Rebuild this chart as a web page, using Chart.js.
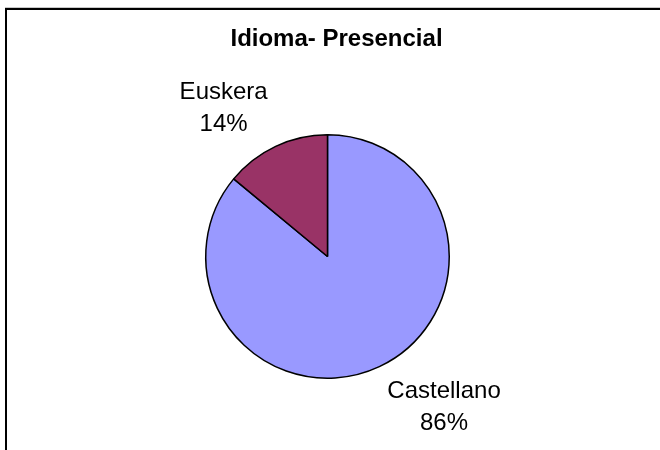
<!DOCTYPE html>
<html>
<head>
<meta charset="utf-8">
<script src="https://cdn.jsdelivr.net/npm/chart.js@4"></script>
<style>
html,body{margin:0;padding:0;background:#fff;}
canvas{display:block;}
</style>
</head>
<body>
<canvas id="c" width="660" height="450"></canvas>
<script>
const chartTitle = 'Idioma- Presencial';
const categories = ['Castellano', 'Euskera'];
const percentages = [86, 14];
const sliceColors = ['#9999FF', '#993366'];

const framePlugin = {
  id: 'frame',
  beforeDraw(chart) {
    const ctx = chart.ctx;
    ctx.save();
    ctx.fillStyle = '#fff';
    ctx.fillRect(0, 0, chart.width, chart.height);
    ctx.fillStyle = '#c8c8c8';
    ctx.fillRect(5, 7, chart.width - 5, 1);
    ctx.fillStyle = '#000';
    ctx.fillRect(5, 8, chart.width - 5, 2);
    ctx.fillRect(5, 8, 2, chart.height - 8);
    ctx.restore();
  }
};

const labelPlugin = {
  id: 'pieLabels',
  afterDraw(chart) {
    const ctx = chart.ctx;
    const meta = chart.getDatasetMeta(0);
    ctx.save();
    // title
    ctx.fillStyle = '#000';
    ctx.font = 'bold 24px "Liberation Sans", Arial, sans-serif';
    ctx.textAlign = 'center';
    ctx.textBaseline = 'alphabetic';
    ctx.fillText(chartTitle, 336.5, 46);
    // slice labels
    ctx.font = '24px "Liberation Sans", Arial, sans-serif';
    meta.data.forEach((arc, i) => {
      const p = arc.getProps(['x', 'y', 'startAngle', 'endAngle', 'outerRadius'], true);
      const mid = (p.startAngle + p.endAngle) / 2;
      const ax = p.x + Math.cos(mid) * p.outerRadius;
      const ay = p.y + Math.sin(mid) * p.outerRadius;
      const l1 = categories[i];
      const l2 = percentages[i] + '%';
      const w = Math.max(ctx.measureText(l1).width, ctx.measureText(l2).width);
      const sx = Math.cos(mid) >= 0 ? 1 : -1;
      const sy = Math.sin(mid) >= 0 ? 1 : -1;
      const cx = ax + sx * (w / 2 + 8);
      const cy = ay + sy * (24 + 15);
      ctx.fillText(l1, cx, cy - 8);
      ctx.fillText(l2, cx, cy + 24);
    });
    ctx.restore();
  }
};

new Chart(document.getElementById('c'), {
  type: 'pie',
  data: {
    labels: categories,
    datasets: [{
      data: percentages,
      backgroundColor: sliceColors,
      borderColor: '#000',
      borderWidth: 1.5
    }]
  },
  options: {
    responsive: false,
    animation: false,
    layout: { padding: { left: 205, right: 210, top: 134, bottom: 71 } },
    plugins: {
      legend: { display: false },
      tooltip: { enabled: false },
      title: { display: false }
    }
  },
  plugins: [framePlugin, labelPlugin]
});
</script>
</body>
</html>
